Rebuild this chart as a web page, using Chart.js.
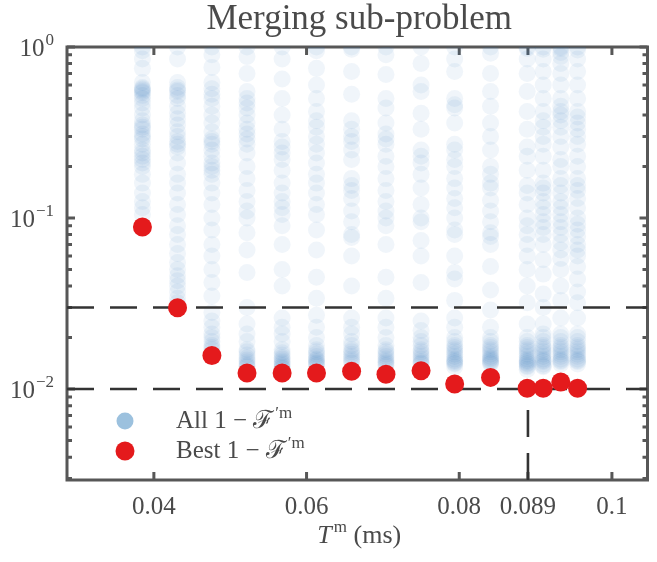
<!DOCTYPE html>
<html>
<head>
<meta charset="utf-8">
<title>Merging sub-problem</title>
<script src="https://cdn.jsdelivr.net/npm/chart.js@4.4.1/dist/chart.umd.min.js"></script>
<style>
    html, body { margin: 0; padding: 0; background: #fff; }
    #wrap { width: 657px; height: 562px; }
</style>
</head>
<body>
<div id="wrap"><canvas id="chart" width="657" height="562"></canvas></div>
<script>
// pulse durations T^m (ms), one column of trials per duration
const xCols = [0.0385, 0.0431, 0.0476, 0.0522, 0.0568, 0.0613, 0.0659, 0.0704,
    0.0750, 0.0794, 0.0841, 0.0889, 0.0910, 0.0933, 0.0955];

// all 1 - F'm values per column
const allCols = [
    [1.0, 0.95, 0.85, 0.75, 0.62, 0.58, 0.57, 0.56, 0.55, 0.54, 0.52, 0.5, 0.47, 0.44, 0.4, 0.37,
        0.35, 0.34, 0.33, 0.31, 0.3, 0.29, 0.27, 0.25, 0.24, 0.23, 0.22, 0.21, 0.2, 0.18, 0.16,
        0.14, 0.125, 0.115, 0.105],
    [1.0, 0.85, 0.62, 0.58, 0.56, 0.55, 0.52, 0.5, 0.45, 0.41, 0.38, 0.35, 0.32, 0.3, 0.28, 0.27,
        0.26, 0.24, 0.21, 0.18, 0.16, 0.14, 0.12, 0.105, 0.09, 0.08, 0.07, 0.062, 0.055, 0.05,
        0.046, 0.043, 0.04, 0.037, 0.034, 0.032],
    [1.0, 0.9, 0.76, 0.62, 0.57, 0.53, 0.5, 0.45, 0.4, 0.36, 0.32, 0.29, 0.28, 0.27, 0.25, 0.23,
        0.21, 0.2, 0.19, 0.18, 0.16, 0.14, 0.12, 0.1, 0.085, 0.07, 0.06, 0.05, 0.042, 0.035,
        0.028, 0.025, 0.023, 0.021, 0.02, 0.019, 0.018, 0.0175, 0.017],
    [1.0, 0.88, 0.7, 0.55, 0.5, 0.47, 0.44, 0.4, 0.36, 0.33, 0.31, 0.29, 0.27, 0.24, 0.2, 0.17,
        0.145, 0.125, 0.11, 0.1, 0.082, 0.065, 0.048, 0.03, 0.024, 0.021, 0.019, 0.017, 0.0165,
        0.0158, 0.0152, 0.0148, 0.0144, 0.014, 0.0137, 0.0135],
    [1.0, 0.85, 0.65, 0.5, 0.4, 0.33, 0.28, 0.26, 0.24, 0.22, 0.19, 0.16, 0.14, 0.125, 0.115,
        0.105, 0.09, 0.07, 0.05, 0.04, 0.026, 0.023, 0.021, 0.019, 0.017, 0.0163, 0.0158, 0.0153,
        0.015, 0.0146, 0.0143, 0.014, 0.0137, 0.0134, 0.0132],
    [1.0, 0.95, 0.75, 0.6, 0.5, 0.42, 0.37, 0.34, 0.3, 0.27, 0.24, 0.21, 0.18, 0.16, 0.14, 0.12,
        0.105, 0.085, 0.065, 0.045, 0.034, 0.027, 0.023, 0.02, 0.018, 0.017, 0.0165, 0.016, 0.0155,
        0.015, 0.0148, 0.0145, 0.0142, 0.014, 0.0137],
    [1.0, 0.97, 0.72, 0.53, 0.37, 0.33, 0.3, 0.28, 0.25, 0.22, 0.17, 0.155, 0.145, 0.13, 0.11,
        0.095, 0.08, 0.077, 0.06, 0.04, 0.026, 0.023, 0.021, 0.019, 0.018, 0.017, 0.0165, 0.016,
        0.0155, 0.015, 0.0146, 0.0142],
    [1.0, 0.9, 0.69, 0.5, 0.44, 0.36, 0.31, 0.29, 0.27, 0.23, 0.2, 0.17, 0.145, 0.125, 0.11, 0.1,
        0.09, 0.07, 0.045, 0.034, 0.026, 0.023, 0.02, 0.018, 0.017, 0.0165, 0.016, 0.0155, 0.015,
        0.0146, 0.0143, 0.014, 0.0137],
    [1.0, 0.8, 0.6, 0.55, 0.41, 0.33, 0.25, 0.23, 0.21, 0.18, 0.15, 0.12, 0.1, 0.095, 0.074, 0.06,
        0.042, 0.025, 0.022, 0.02, 0.019, 0.018, 0.017, 0.0165, 0.016, 0.0155, 0.015, 0.0145,
        0.0142, 0.014],
    [1.0, 0.85, 0.72, 0.5, 0.46, 0.44, 0.36, 0.27, 0.25, 0.22, 0.2, 0.17, 0.15, 0.13, 0.115, 0.1,
        0.085, 0.08, 0.06, 0.048, 0.044, 0.033, 0.026, 0.023, 0.02, 0.019, 0.018, 0.0175, 0.017,
        0.0165, 0.016, 0.0155, 0.015, 0.0147, 0.0145, 0.0142, 0.014, 0.0135],
    [1.0, 0.92, 0.7, 0.55, 0.45, 0.36, 0.3, 0.25, 0.2, 0.18, 0.16, 0.15, 0.127, 0.11, 0.095,
        0.082, 0.078, 0.07, 0.052, 0.038, 0.029, 0.023, 0.02, 0.019, 0.018, 0.0175, 0.017, 0.0165,
        0.016, 0.0155, 0.0152, 0.015, 0.0147, 0.0145, 0.0142, 0.014],
    [1.0, 0.98, 0.85, 0.7, 0.55, 0.42, 0.33, 0.26, 0.23, 0.19, 0.155, 0.14, 0.12, 0.1, 0.09, 0.08,
        0.07, 0.06, 0.05, 0.04, 0.032, 0.024, 0.02, 0.019, 0.018, 0.0175, 0.017, 0.0165, 0.016,
        0.0155, 0.015, 0.0147, 0.0145, 0.0142, 0.014, 0.0137, 0.0135, 0.013],
    [1.0, 0.97, 0.85, 0.72, 0.6, 0.5, 0.42, 0.37, 0.34, 0.3, 0.27, 0.23, 0.19, 0.16, 0.15, 0.14,
        0.125, 0.115, 0.105, 0.095, 0.088, 0.08, 0.07, 0.057, 0.047, 0.036, 0.03, 0.024, 0.021,
        0.02, 0.019, 0.018, 0.0175, 0.017, 0.0165, 0.016, 0.0155, 0.015, 0.0147, 0.0145, 0.014,
        0.0137, 0.0135],
    [1.0, 0.98, 0.93, 0.88, 0.8, 0.7, 0.6, 0.5, 0.45, 0.42, 0.4, 0.37, 0.34, 0.3, 0.26, 0.22, 0.2,
        0.17, 0.155, 0.14, 0.125, 0.115, 0.105, 0.095, 0.088, 0.08, 0.072, 0.065, 0.058, 0.05,
        0.04, 0.033, 0.026, 0.021, 0.02, 0.019, 0.018, 0.0175, 0.017, 0.0165, 0.016, 0.0155,
        0.015, 0.0147, 0.0145, 0.014],
    [1.0, 0.96, 0.85, 0.72, 0.6, 0.5, 0.42, 0.39, 0.36, 0.33, 0.3, 0.27, 0.23, 0.2, 0.17, 0.155,
        0.145, 0.13, 0.115, 0.1, 0.092, 0.085, 0.078, 0.07, 0.065, 0.06, 0.052, 0.044, 0.037,
        0.032, 0.026, 0.021, 0.02, 0.019, 0.018, 0.0175, 0.017, 0.0165, 0.016, 0.0155, 0.015,
        0.0147, 0.0145, 0.014]
];

// best 1 - F'm per column
const bestVals = [0.0886, 0.0299, 0.0157, 0.0124, 0.0124, 0.0124, 0.0127, 0.0122, 0.0128,
    0.0107, 0.0117, 0.0101, 0.0101, 0.0110, 0.0101];

const thresholds = [0.03, 0.01];
const markT = 0.089;

const xRange = [0.02862, 0.10466];
const yRange = [0.00294, 1];
const xTicks = [0.04, 0.06, 0.08, 0.089, 0.1];
const yTicks = [0.01, 0.1, 1];
const yTickExp = ["\u22122", "\u22121", "0"];
const yMinor = [0.003, 0.004, 0.005, 0.006, 0.007, 0.008, 0.009,
    0.02, 0.03, 0.04, 0.05, 0.06, 0.07, 0.08, 0.09,
    0.2, 0.3, 0.4, 0.5, 0.6, 0.7, 0.8, 0.9];

const SERIF = "'Liberation Serif', 'DejaVu Serif', serif";
const INK = "#4a4a4a";
const FRAME = "#575757";
const BLUE = "rgba(55, 126, 184, 0.075)";
const BLUE_KEY = "rgb(156, 193, 222)";
const RED = "#e41a1c";

function font(size, italic) {
    return (italic ? "italic " : "") + size + "px " + SERIF;
}

// draws text runs (with raised superscripts) starting at x, or ending at x when align is right
function drawRuns(ctx, runs, x, y, align) {
    let total = 0;
    for (const r of runs) {
        ctx.font = font(r.size, r.italic);
        r.w = ctx.measureText(r.t).width;
        total += r.w + (r.gap || 0);
    }
    let cx = align === "right" ? x - total : align === "center" ? x - total / 2 : x;
    ctx.textAlign = "left";
    ctx.textBaseline = "alphabetic";
    for (const r of runs) {
        cx += r.gap || 0;
        ctx.font = font(r.size, r.italic);
        ctx.fillText(r.t, cx, y + (r.dy || 0));
        cx += r.w;
    }
}

const framePlugin = {
    id: "frame",
    beforeDatasetsDraw(chart) {
        const { ctx, chartArea: a, scales } = chart;
        ctx.save();
        ctx.strokeStyle = FRAME;
        ctx.lineWidth = 3;
        ctx.strokeRect(a.left, a.top, a.right - a.left, a.bottom - a.top);
        ctx.beginPath();
        for (const v of xTicks) {
            const px = scales.x.getPixelForValue(v);
            ctx.moveTo(px, a.bottom); ctx.lineTo(px, a.bottom - 8);
            ctx.moveTo(px, a.top); ctx.lineTo(px, a.top + 8);
        }
        for (const v of yTicks) {
            const py = scales.y.getPixelForValue(v);
            ctx.moveTo(a.left, py); ctx.lineTo(a.left + 8, py);
            ctx.moveTo(a.right, py); ctx.lineTo(a.right - 8, py);
        }
        for (const v of yMinor) {
            const py = scales.y.getPixelForValue(v);
            ctx.moveTo(a.left, py); ctx.lineTo(a.left + 5, py);
            ctx.moveTo(a.right, py); ctx.lineTo(a.right - 5, py);
        }
        ctx.stroke();
        ctx.restore();
    },
    afterDraw(chart) {
        const { ctx, chartArea: a, scales } = chart;
        const mid = (a.left + a.right) / 2;
        ctx.save();
        ctx.fillStyle = INK;

        drawRuns(ctx, [{ t: "Merging sub-problem", size: 35 }], mid + 2, 29, "center");

        yTicks.forEach((v, i) => {
            const py = scales.y.getPixelForValue(v);
            drawRuns(ctx, [
                { t: "10", size: 25 },
                { t: yTickExp[i], size: 17, dy: -11, gap: 1 }
            ], a.left - 13, py + 8.5, "right");
        });

        drawRuns(ctx, [
            { t: "T", size: 26, italic: true },
            { t: "m", size: 17, dy: -11, gap: 2 },
            { t: " (ms)", size: 26 }
        ], mid + 2, 543, "center");

        // legend
        const keys = [
            { label: "All", color: BLUE_KEY, r: 8.5, y: 421 },
            { label: "Best", color: RED, r: 9.5, y: 451 }
        ];
        for (const k of keys) {
            ctx.beginPath();
            ctx.fillStyle = k.color;
            ctx.arc(125, k.y, k.r, 0, Math.PI * 2);
            ctx.fill();
            ctx.fillStyle = INK;
            drawRuns(ctx, [
                { t: k.label + " 1 \u2212 \u2131", size: 25 },
                { t: "\u2032m", size: 17, dy: -10, gap: 1 }
            ], 176, k.y + 7, "left");
        }
        ctx.restore();
    }
};

function columnPoints() {
    const pts = [];
    allCols.forEach((col, i) => col.forEach(v => pts.push({ x: xCols[i], y: v })));
    return pts;
}

function dashed(points) {
    return {
        data: points,
        showLine: true,
        borderColor: "#333",
        borderWidth: 2.6,
        borderDash: [27, 16],
        pointRadius: 0,
        order: 1
    };
}

function main() {
    const ctx = document.getElementById("chart");
    new Chart(ctx, {
        type: "scatter",
        data: {
            datasets: [
                {
                    label: "Best",
                    data: bestVals.map((v, i) => ({ x: xCols[i], y: v })),
                    backgroundColor: RED,
                    borderWidth: 0,
                    pointRadius: 9.5,
                    order: 0
                },
                dashed([{ x: xRange[0], y: thresholds[0] }, { x: xRange[1], y: thresholds[0] }]),
                dashed([{ x: xRange[0], y: thresholds[1] }, { x: xRange[1], y: thresholds[1] }]),
                dashed([{ x: markT, y: yRange[0] }, { x: markT, y: thresholds[1] }]),
                {
                    label: "All",
                    data: columnPoints(),
                    backgroundColor: BLUE,
                    borderWidth: 0,
                    pointRadius: 8.5,
                    clip: 0,
                    order: 2
                }
            ]
        },
        options: {
            responsive: false,
            animation: false,
            events: [],
            layout: { padding: { top: 47, right: 2, left: 0, bottom: 0 } },
            plugins: {
                legend: { display: false },
                tooltip: { enabled: false },
                title: { display: false }
            },
            scales: {
                x: {
                    type: "linear",
                    min: xRange[0],
                    max: xRange[1],
                    grid: { display: false },
                    border: { display: false },
                    afterBuildTicks: s => { s.ticks = xTicks.map(v => ({ value: v })); },
                    afterFit: s => { s.height = 82; },
                    ticks: {
                        color: INK,
                        font: { family: SERIF, size: 25 },
                        padding: 4,
                        maxRotation: 0,
                        autoSkip: false,
                        callback: v => String(v)
                    }
                },
                y: {
                    type: "logarithmic",
                    min: yRange[0],
                    max: yRange[1],
                    grid: { display: false },
                    border: { display: false },
                    afterFit: s => { s.width = 67; },
                    ticks: { display: false }
                }
            }
        },
        plugins: [framePlugin]
    });
}

main();
</script>
</body>
</html>
